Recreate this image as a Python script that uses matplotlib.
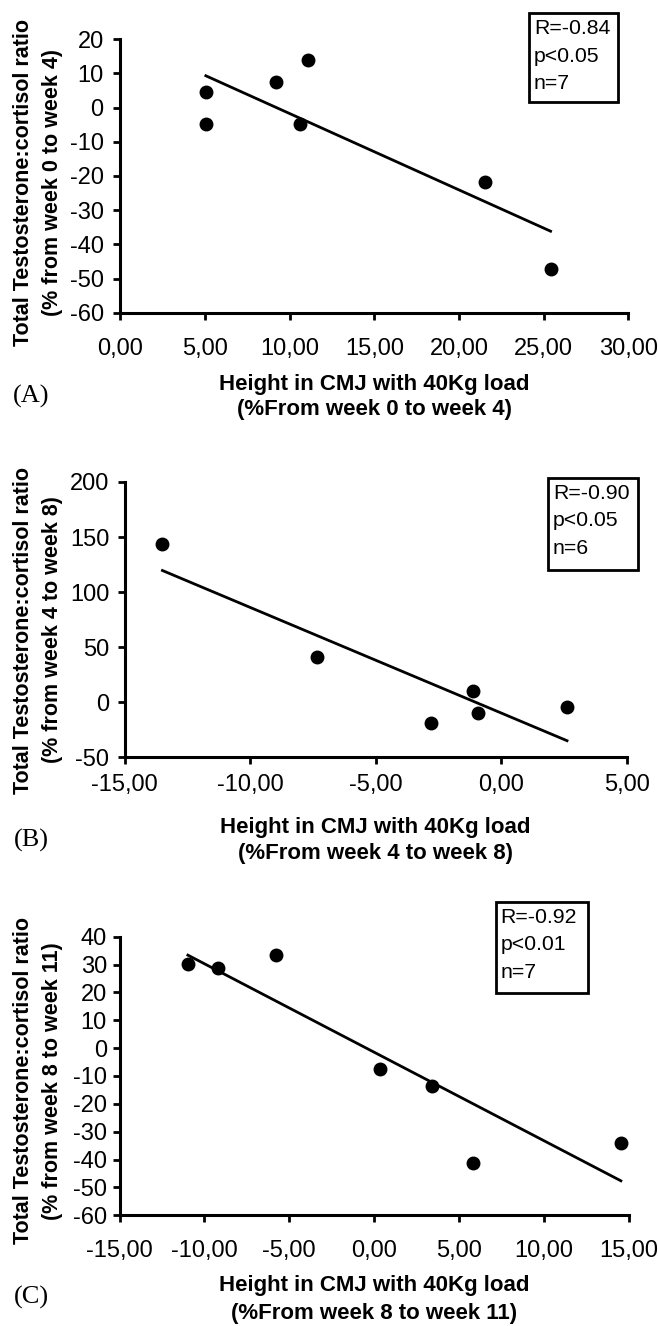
import numpy as np
import matplotlib
matplotlib.use("Agg")
import matplotlib.pyplot as plt
from matplotlib.patches import Rectangle

# figure size in pixels
W, H = 658, 1326

# ---- data ----
# (A) week 0 -> week 4
a_x = [5.05, 5.05, 9.2, 11.1, 10.6, 21.5, 25.4]
a_y = [4.7, -4.7, 7.6, 13.95, -4.7, -21.8, -47.2]
a_xticks = [0, 5, 10, 15, 20, 25, 30]
a_xticklabels = ["0,00", "5,00", "10,00", "15,00", "20,00", "25,00", "30,00"]
a_yticks = [-60, -50, -40, -30, -20, -10, 0, 10, 20]
a_stats = ["R=-0.84", "p<0.05", "n=7"]

# (B) week 4 -> week 8
b_x = [-13.49, -7.35, -2.79, -1.11, -0.91, 2.62]
b_y = [143.4, 41.4, -18.8, 10.2, -10.0, -4.0]
b_xticks = [-15, -10, -5, 0, 5]
b_xticklabels = ["-15,00", "-10,00", "-5,00", "0,00", "5,00"]
b_yticks = [-50, 0, 50, 100, 150, 200]
b_stats = ["R=-0.90", "p<0.05", "n=6"]

# (C) week 8 -> week 11
c_x = [-10.97, -9.18, -5.8, 0.34, 3.42, 5.83, 14.55]
c_y = [30.2, 28.6, 33.3, -7.6, -13.6, -41.2, -34.0]
c_xticks = [-15, -10, -5, 0, 5, 10, 15]
c_xticklabels = ["-15,00", "-10,00", "-5,00", "0,00", "5,00", "10,00", "15,00"]
c_yticks = [-60, -50, -40, -30, -20, -10, 0, 10, 20, 30, 40]
c_stats = ["R=-0.92", "p<0.01", "n=7"]

xlab_1 = "Height in CMJ with 40Kg load"
ylab_1 = "Total Testosterone:cortisol ratio"
periods = ["week 0 to week 4", "week 4 to week 8", "week 8 to week 11"]
letters = ["(A)", "(B)", "(C)"]

# ---- layout (pixels: left, top, right, bottom) ----
panels = [
    dict(x=a_x, y=a_y, xt=a_xticks, xtl=a_xticklabels, yt=a_yticks, stats=a_stats,
         rect=(120.3, 39.3, 628.5, 312.7), box=(529, 13, 618, 102),
         xpad=13.5, ypad=7, xlab_y=(384, 410), ylab_y=183, let_y=396),
    dict(x=b_x, y=b_y, xt=b_xticks, xtl=b_xticklabels, yt=b_yticks, stats=b_stats,
         rect=(124.5, 482, 626.8, 757.3), box=(548, 478, 638, 570),
         xpad=7, ypad=6, xlab_y=(827, 853), ylab_y=630, let_y=840),
    dict(x=c_x, y=c_y, xt=c_xticks, xtl=c_xticklabels, yt=c_yticks, stats=c_stats,
         rect=(119.5, 936.7, 628.5, 1215.3), box=(495.6, 901.7, 588, 992.7),
         xpad=13, ypad=4, xlab_y=(1286, 1313), ylab_y=1081, let_y=1297),
]

TICK_FS = 17
LAB_FS = 16
STAT_FS = 15.3
plt.rcParams['font.family'] = ['Liberation Sans', 'DejaVu Sans']

fig = plt.figure(figsize=(W / 100, H / 100), dpi=100)

for i, p in enumerate(panels):
    l, t, r, b = p["rect"]
    ax = fig.add_axes([l / W, 1 - b / H, (r - l) / W, (b - t) / H])

    ax.plot(p["x"], p["y"], "o", color="black", markersize=9, mew=1, zorder=3)

    # linear trend line over the data range
    slope, icpt = np.polyfit(p["x"], p["y"], 1)
    xs = np.array([min(p["x"]), max(p["x"])])
    ax.plot(xs, slope * xs + icpt, color="black", lw=2, zorder=2)

    ax.set_xlim(p["xt"][0], p["xt"][-1])
    ax.set_ylim(p["yt"][0], p["yt"][-1])
    ax.set_xticks(p["xt"])
    ax.set_xticklabels(p["xtl"])
    ax.set_yticks(p["yt"])
    ax.set_yticklabels([str(v) for v in p["yt"]])

    for s in ["top", "right"]:
        ax.spines[s].set_visible(False)
    for s in ["left", "bottom"]:
        ax.spines[s].set_linewidth(2.2)
    ax.tick_params(axis="both", direction="out", length=5, width=2, labelsize=TICK_FS)
    ax.tick_params(axis="x", pad=p["xpad"])
    ax.tick_params(axis="y", pad=p["ypad"])
    ax.patch.set_visible(False)

    # axis titles
    cx = (l + r) / 2 / W
    fig.text(cx, 1 - p["xlab_y"][0] / H, xlab_1, ha="center", va="center",
             fontsize=LAB_FS, fontweight="bold")
    fig.text(cx, 1 - p["xlab_y"][1] / H, "(%From " + periods[i] + ")",
             ha="center", va="center", fontsize=LAB_FS, fontweight="bold")
    fig.text(24 / W, 1 - p["ylab_y"] / H, ylab_1, rotation=90, ha="center",
             va="center", fontsize=15.5, fontweight="bold")
    fig.text(53 / W, 1 - p["ylab_y"] / H, "(% from " + periods[i] + ")",
             rotation=90, ha="center", va="center", fontsize=15.5, fontweight="bold")

    # panel letter
    fig.text(31 / W, 1 - p["let_y"] / H, letters[i], ha="center", va="center",
             fontsize=19, family="Liberation Serif")

    # stats box
    bl, bt, br, bb = p["box"]
    fig.patches.append(Rectangle((bl / W, 1 - bb / H), (br - bl) / W, (bb - bt) / H,
                                 transform=fig.transFigure, fill=False,
                                 edgecolor="black", lw=2, zorder=5))
    for k, line in enumerate(p["stats"]):
        fig.text((bl + 5) / W, 1 - (bt + 15.5 + 27.5 * k) / H, line,
                 ha="left", va="center", fontsize=STAT_FS)

fig.savefig("out.png", dpi=100)
